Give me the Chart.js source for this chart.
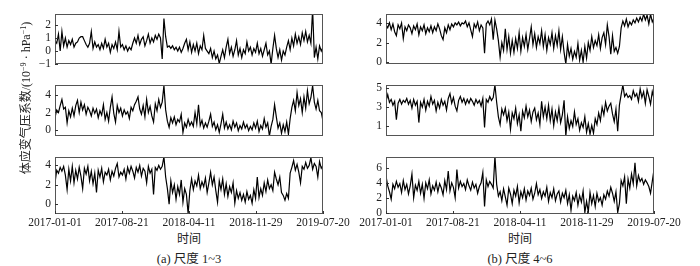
<!DOCTYPE html>
<html>
<head>
<meta charset="utf-8">
<script src="https://cdn.jsdelivr.net/npm/chart.js@4.4.0/dist/chart.umd.min.js"></script>
<style>
body { margin: 0; background: #fff; }
#wrap { position: relative; width: 700px; height: 266px; overflow: hidden;
        font-family: "Liberation Serif", "Noto Sans CJK SC", serif; color: #222; }
#wrap canvas { position: absolute; }
.txt { position: absolute; white-space: nowrap; transform: translate(-50%, -50%); }
.txt sup { font-size: 0.68em; vertical-align: 0.45em; line-height: 0; }
#ylab { filter: grayscale(1); }
</style>
</head>
<body>
<div id="wrap">
  <div class="txt" id="ylab" style="left:25px;top:98px;font-size:12px;transform:translate(-50%,-50%) rotate(-90deg)">体应变气压系数/(10<sup>−9</sup> · hPa<sup>−1</sup>)</div>
  <div class="txt" style="left:189px;top:238px;font-size:12px">时间</div>
  <div class="txt" style="left:520px;top:238px;font-size:12px">时间</div>
  <div class="txt" style="left:189px;top:257px;font-size:12.5px">(a) 尺度 1~3</div>
  <div class="txt" style="left:520px;top:257px;font-size:12.5px">(b) 尺度 4~6</div>
</div>
<script>
// 时间轴: 2017-01-01 起的天数, 每 6 天取一个值
const stepDays = 6;
const tickDays = [0, 232, 465, 697, 930];
const tickLabels = ['2017-01-01', '2017-08-21', '2018-04-11', '2018-11-29', '2019-07-20'];

// 尺度 1 ~ 6 的体应变气压系数
const scale1 = [
  0.8, 0.6, 1.3, 0.0, 1.5, 0.4, 1.0, 0.3, 0.8, 0.5,
  0.9, 0.3, 0.6, 0.7, 1.0, 1.1, 1.1, 0.8, 0.5, 0.3,
  0.6, 1.5, 0.2, 0.7, 0.3, 0.5, 0.1, 0.6, 0.2, 0.9,
  0.3, 0.6, -0.1, 0.5, 0.2, 0.7, 0.1, 1.5, 0.3, 0.5,
  0.1, 0.4, 0.0, 0.3, 0.1, 0.6, 1.0, 0.6, 1.2, 0.5,
  0.9, 1.1, 0.4, 0.8, 1.3, 0.6, 1.0, 0.7, 1.2, 0.9,
  1.3, 1.0, -0.6, 2.5, 1.1, 0.3, 0.4, 0.2, 0.4, 0.1,
  0.3, 0.0, 0.3, -0.1, 0.2, 0.6, 0.9, 0.1, 0.7, -0.1,
  0.5, 0.0, 0.6, -0.2, 0.4, 0.1, 1.2, 0.2, 0.0, -0.2,
  0.2, -0.5, 0.0, -0.6, -0.3, -0.95, -0.4, 0.1, -0.5, 0.3,
  0.9, -0.2, 0.3, -0.4, 0.1, 0.8, -0.3, 0.2, -0.5, 0.1,
  -0.2, 0.7, 0.0, 0.3, -0.3, 0.2, -0.1, 0.6, -0.2, 0.2,
  -0.4, 0.1, 0.6, -0.3, 0.0, -1.0, 0.2, 1.2, 0.2, -0.5,
  0.1, -0.7, 0.0, -0.3, 0.3, 0.8, 0.1, 1.0, 0.4, 1.3,
  0.6, 1.1, 0.5, 1.4, 0.8, 1.5, 0.7, 1.2, 0.6, 3.2,
  -0.5, 0.3, -0.6, 0.4, 0.0, 0.3
];
const scale2 = [
  1.4, 2.3, 2.0, 2.8, 3.5, 2.4, 2.6, 0.8, 2.2, 1.5,
  2.5, 1.6, 2.8, 3.4, 2.0, 3.2, 2.3, 2.9, 1.8, 2.6,
  2.2, 1.6, 2.5, 1.9, 2.4, 1.4, 2.2, 1.7, 2.9, 1.2,
  2.0, 1.0, 2.6, 3.8, 1.9, 0.9, 2.8, 2.0, 2.5, 1.6,
  2.3, 1.8, 2.1, 1.3, 2.6, 2.2, 2.9, 3.3, 3.8, 2.4,
  1.8, 2.8, 1.5, 3.5, 2.0, 2.7, 1.6, 0.9, 3.0, 2.2,
  3.5, 2.6, 3.2, 5.1, 2.3, 1.0, 0.3, 1.4, 0.8, 1.5,
  0.6, 1.2, 0.9, 1.8, -0.3, 0.8, 0.3, 1.2, 0.5, 0.9,
  0.4, 2.0, 0.7, 2.9, 0.5, 1.1, 0.2, 0.8, 0.3, 1.0,
  1.8, 0.4, 0.9, 0.0, 0.6, -0.3, 0.7, 1.8, 0.2, 0.9,
  0.1, 0.6, 0.0, 1.0, 0.3, 0.8, -0.1, 0.5, 0.1, 0.9,
  0.2, 0.6, -0.1, 0.4, 0.0, 0.8, 0.2, 1.0, -0.2, 0.5,
  0.1, 1.3, 0.3, 0.8, -0.7, 0.4, 1.2, 2.9, 1.5, 0.2,
  0.8, -0.4, 0.6, -0.2, 0.9, -0.5, 1.3, 2.6, 3.4, 2.2,
  4.3, 2.8, 3.6, 2.0, 3.8, 2.5, 4.5, 3.0, 3.7, 5.1,
  3.2, 2.4, 3.4, 2.2, 2.0, 1.0
];
const scale3 = [
  2.2, 3.5, 3.2, 3.8, 3.4, 3.9, 3.0, 1.5, 3.6, 2.4,
  3.9, 2.2, 3.5, 2.6, 3.8, 2.9, 1.6, 3.7, 3.1, 3.9,
  2.4, 3.4, 2.1, 3.2, 1.2, 3.5, 2.8, 3.7, 2.3, 3.3,
  3.0, 3.6, 2.5, 3.4, 2.9, 3.7, 4.2, 2.8, 3.3, 3.0,
  3.6, 2.6, 3.8, 3.2, 3.9, 3.4, 2.7, 3.8, 3.3, 4.0,
  2.9, 3.7, 3.4, 2.2, 3.9, 3.2, 3.6, 1.0, 3.8, 3.5,
  4.0, 3.6, 3.9, 4.9, 2.8, 1.6, 0.0, 2.4, 1.2, 2.0,
  0.5, 1.8, 1.0, 2.5, 0.2, 1.6, 1.0, -1.0, 1.4, 2.6,
  1.5, 2.4, 1.9, 3.0, 1.6, 2.3, 1.8, 2.7, 1.2, 2.2,
  3.3, 2.0, 2.8, 1.4, 0.2, 2.4, 1.5, 2.6, 1.0, 2.1,
  0.8, 1.8, 1.2, 2.2, 0.1, 1.4, 0.6, 1.2, 0.4, 1.0,
  0.2, 1.3, 0.5, 0.9, 0.1, 1.5, 0.6, 2.8, 0.7, 1.6,
  0.9, 2.2, 1.3, 2.5, 1.6, 2.0, 1.4, 3.3, 2.6, 2.0,
  2.8, 1.2, 0.9, 0.4, 1.1, 0.6, 3.2, 3.8, 4.5, 3.5,
  4.1, 3.3, 2.2, 3.9, 3.6, 4.3, 3.7, 4.0, 4.8, 3.6,
  4.2, 3.9, 2.8, 4.4, 3.7, 4.0
];
const scale4 = [
  3.8, 3.5, 4.0, 3.3, 3.9, 3.1, 2.7, 3.8, 3.4, 4.0,
  2.4, 3.6, 3.2, 3.8, 3.5, 2.9, 3.7, 3.3, 3.9, 2.8,
  3.6, 3.2, 3.8, 2.9, 3.5, 3.1, 3.7, 3.0, 3.6, 3.2,
  3.9, 3.4, 2.7, 2.3, 3.5, 3.0, 3.8, 3.3, 3.9, 3.6,
  4.0, 3.8, 4.1, 3.7, 4.0, 3.9, 4.2, 3.6, 4.0, 3.3,
  2.6, 3.9, 3.5, 4.1, 3.2, 3.8, 3.5, 0.9, 3.9, 4.2,
  3.8, 4.4, 2.3, 4.3, 3.4, 2.2, 0.5, 2.0, 1.2, 3.4,
  1.3, 2.6, 0.9, 2.2, 1.0, 2.4, 1.4, 3.0, 1.1, 2.5,
  1.6, 2.8, 1.3, 2.4, 3.6, 1.8, 2.9, 1.5, 2.6, 1.9,
  3.2, 1.6, 2.8, 1.2, 2.5, 1.8, 3.0, 1.4, 2.7, 1.7,
  3.2, 1.3, 2.6, 1.0, -0.2, 1.8, 0.6, 1.4, 0.3, 1.1,
  0.5, 1.9, 0.2, 1.2, 0.0, 1.6, 0.4, 2.0, 1.2, 2.6,
  1.5, 2.2, 1.7, 2.8, 1.4, 2.5, 3.0, 1.8, 3.8, 2.6,
  0.8, 2.7, 1.1, 1.5, 0.9, 1.6, 3.5, 4.2, 3.7, 4.4,
  3.6, 4.1, 3.8, 4.3, 4.0, 4.5, 4.1, 4.6, 4.2, 4.9,
  4.3, 4.8, 3.9, 4.9, 4.1, 4.5
];
const scale5 = [
  3.6, 4.3, 3.5, 3.8, 3.2, 3.6, 1.7, 3.4, 3.8, 3.3,
  3.7, 3.5, 3.9, 3.3, 3.7, 2.9, 3.8, 3.2, 3.6, 1.4,
  3.5, 3.0, 3.8, 2.7, 3.6, 3.1, 4.1, 3.3, 3.7, 2.6,
  3.5, 2.9, 3.8, 3.2, 3.6, 2.7, 3.9, 4.4, 3.4, 4.0,
  3.1, 2.6, 3.7, 4.1, 3.5, 3.9, 3.3, 3.8, 3.4, 3.9,
  3.6, 3.2, 3.8, 3.4, 3.7, 3.1, 3.9, 0.9, 3.8, 3.5,
  4.1, 3.7, 4.0, 5.3, 3.5, 2.0, 1.2, 2.8, 2.2, 2.9,
  1.6, 2.5, 0.7, 2.4, 1.8, 2.9, 1.3, 2.2, 0.5, 2.6,
  1.9, 3.1, 2.0, 2.7, 1.5, 2.5, 2.9, 1.7, 2.4, 1.2,
  3.6, 2.0, 3.0, 1.8, 3.2, 1.6, 2.8, 1.1, 2.5, 1.6,
  2.9, 1.4, 2.2, 3.7, 0.0, 2.0, 0.8, 1.6, 1.0, 2.5,
  1.2, 1.8, 0.6, 1.4, 0.9, 2.0, 0.4, 1.3, 0.2, 1.1,
  0.3, 1.8, 1.2, 2.4, 1.6, 3.0, 2.2, 3.5, 2.6, 3.1,
  3.4, 2.3, 1.5, 2.8, 0.5, 3.2, 4.3, 5.3, 4.1, 4.4,
  4.0, 4.2, 3.8, 4.7, 4.1, 4.4, 3.6, 4.9, 4.0, 4.6,
  3.4, 4.8, 4.1, 3.3, 4.6, 3.9
];
const scale6 = [
  4.9, 3.6, 2.8, 1.8, 3.8, 3.2, 4.2, 3.4, 3.9, 2.7,
  4.3, 3.1, 3.8, 2.5, 3.6, 5.2, 2.0, 3.7, 3.0, 4.2,
  2.6, 3.8, 1.9, 4.0, 3.2, 4.4, 2.5, 3.6, 3.0, 4.1,
  2.8, 3.9, 3.3, 2.4, 4.3, 3.1, 5.6, 2.9, 4.0, 3.4,
  2.0, 5.8, 3.3, 4.2, 3.5, 3.9, 3.1, 4.4, 3.6, 3.0,
  4.1, 3.3, 3.8, 2.6, 3.5, 4.0, 5.4, 0.8, 4.4, 3.5,
  4.2, 3.8, 3.3, 7.6, 3.8, 2.2, 2.8, 1.6, 3.2, 2.1,
  1.0, 3.3, 2.5, 1.2, 3.0, 2.2, 3.5, 1.3, 2.8, 2.0,
  3.2, 1.7, 2.9, 2.3, 3.3, 1.8, 2.6, 3.9, 2.4, 3.1,
  1.9, 2.8, 2.2, 3.4, 1.5, 2.7, 2.0, 3.2, 1.6, 2.5,
  2.9, 1.4, 2.6, 2.0, 3.0, 1.2, 2.4, 0.3, 2.2, 1.6,
  2.7, 1.0, 2.3, 1.4, 2.9, 0.0, 1.5, 0.1, 2.7, 1.2,
  2.3, 0.8, 2.6, 1.5, 2.0, 1.0, 2.4, 1.8, 2.9, 2.2,
  3.4, 2.6, 1.5, 2.8, 0.0, 1.2, 4.3, 3.6, 4.8, 1.2,
  4.5, 3.3, 5.2, 3.9, 6.7, 3.6, 5.0, 4.2, 4.6, 3.8,
  4.4, 4.0, 3.5, 2.6, 4.2, 5.8
];

// 各子图的纵轴刻度
const yTicks1 = [-1, 0, 1, 2];
const yTicks2 = [0, 2, 4];
const yTicks3 = [0, 2, 4];
const yTicks4 = [0, 2, 4];
const yTicks5 = [1, 2, 3, 4, 5];
const yTicks6 = [0, 2, 4, 6];

// 子图位置 (绘图区左上角与尺寸)
const panels = [
  {data: scale1, ticks: yTicks1, min: -1, max: 2.85, x: 55, y: 9, h: 62, bottom: false},
  {data: scale2, ticks: yTicks2, min: -0.72, max: 5.18, x: 55, y: 80, h: 63, bottom: false},
  {data: scale3, ticks: yTicks3, min: -1.02, max: 4.88, x: 55, y: 152, h: 62, bottom: true},
  {data: scale4, ticks: yTicks4, min: -0.2, max: 4.92, x: 386, y: 9, h: 62, bottom: false},
  {data: scale5, ticks: yTicks5, min: 0, max: 5.3, x: 386, y: 80, h: 63, bottom: false},
  {data: scale6, ticks: yTicks6, min: -0.2, max: 7.5, x: 386, y: 152, h: 62, bottom: true}
];

const plotW = 268;
const axisW = 35;
const padTop = 6, padRight = 32;
const font = {family: '"Liberation Serif", "Times New Roman", serif', size: 11.5};

// 画外框和朝内的刻度线
const framePlugin = {
  id: 'frame',
  afterDraw(chart) {
    const {ctx, chartArea: a} = chart;
    ctx.save();
    ctx.strokeStyle = '#555';
    ctx.lineWidth = 1;
    ctx.strokeRect(Math.round(a.left) + 0.5, Math.round(a.top) + 0.5,
                   Math.round(a.right - a.left) - 1, Math.round(a.bottom - a.top) - 1);
    ctx.strokeStyle = '#333';
    chart.scales.y.ticks.forEach(t => {
      const py = Math.round(chart.scales.y.getPixelForValue(t.value)) + 0.5;
      ctx.beginPath();
      ctx.moveTo(a.left, py);
      ctx.lineTo(a.left + 3, py);
      ctx.stroke();
    });
    if (chart.options.scales.x.display) {
      chart.scales.x.ticks.forEach(t => {
        const px = Math.round(chart.scales.x.getPixelForValue(t.value)) + 0.5;
        ctx.beginPath();
        ctx.moveTo(px, a.bottom);
        ctx.lineTo(px, a.bottom - 3);
        ctx.stroke();
      });
    }
    ctx.restore();
  }
};

const wrap = document.getElementById('wrap');

panels.forEach(p => {
  const xAxisH = p.bottom ? 24 : 0;
  const padBottom = p.bottom ? 0 : 4;
  const cv = document.createElement('canvas');
  cv.width = axisW + plotW + padRight;
  cv.height = padTop + p.h + xAxisH + padBottom;
  cv.style.left = (p.x - axisW) + 'px';
  cv.style.top = (p.y - padTop) + 'px';
  wrap.appendChild(cv);

  new Chart(cv.getContext('2d'), {
    type: 'line',
    data: {
      datasets: [{
        data: p.data.map((v, i) => ({x: i * stepDays, y: v})),
        borderColor: '#000',
        borderWidth: 1.2,
        pointRadius: 0,
        tension: 0,
        fill: false
      }]
    },
    options: {
      responsive: false,
      animation: false,
      devicePixelRatio: 1,
      layout: {padding: {top: padTop, right: padRight, bottom: padBottom, left: 0}},
      plugins: {legend: {display: false}, tooltip: {enabled: false}},
      scales: {
        x: {
          type: 'linear',
          display: p.bottom,
          min: 0,
          max: 930,
          grid: {display: false, drawTicks: false},
          border: {display: false},
          afterBuildTicks: s => { s.ticks = tickDays.map(v => ({value: v})); },
          afterFit: s => { s.height = xAxisH; },
          ticks: {
            font: font,
            color: '#222',
            padding: 2,
            maxRotation: 0,
            autoSkip: false,
            callback: (v, i) => tickLabels[i]
          }
        },
        y: {
          type: 'linear',
          min: p.min,
          max: p.max,
          grid: {display: false, drawTicks: false},
          border: {display: false},
          afterBuildTicks: s => { s.ticks = p.ticks.map(v => ({value: v})); },
          afterFit: s => { s.width = axisW; },
          ticks: {
            font: font,
            color: '#222',
            padding: 4,
            callback: v => String(v).replace('-', '\u2212')
          }
        }
      }
    },
    plugins: [framePlugin]
  });
});
</script>
</body>
</html>
